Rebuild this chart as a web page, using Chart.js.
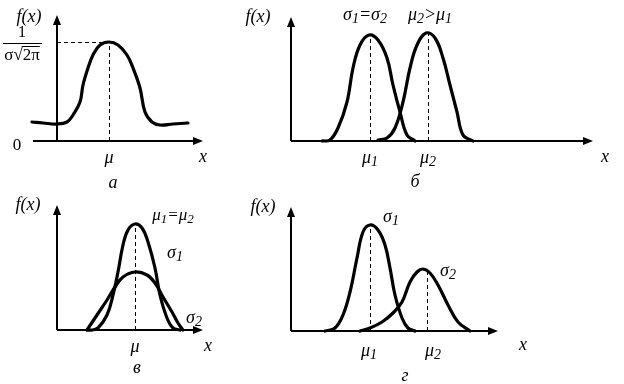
<!DOCTYPE html>
<html><head><meta charset="utf-8">
<script src="https://cdn.jsdelivr.net/npm/chart.js@4.4.1/dist/chart.umd.min.js"></script>
<style>
html,body{margin:0;padding:0;background:#fff;width:624px;height:384px;overflow:hidden}
canvas{position:absolute}
</style></head><body>
<canvas id="pa" width="230" height="192" style="left:0;top:0"></canvas>
<canvas id="pb" width="394" height="192" style="left:230px;top:0"></canvas>
<canvas id="pv" width="230" height="192" style="left:0;top:192px"></canvas>
<canvas id="pg" width="394" height="192" style="left:230px;top:192px"></canvas>
<script>
// ---------- data (x along the axis, f = height of the curve) ----------
// panel а : one normal curve
const aX  = [-2.5,-1.4,0,1.0,1.6,2.3,2.6,3.1,3.6,4.3,5.2,6.1,7.0,7.6,8.3,8.8,9.5,10.3,11.6,13.1];
const aF  = [1.9,1.8,1.7,1.9,2.6,3.9,5.6,7.3,8.6,9.6,9.9,9.6,8.6,7.3,5.3,2.9,1.9,1.6,1.7,1.8];
const aMu = 5.2, aPeak = 9.9;
// panel б : equal sigma, shifted mean
const b1X = [3.1,3.9,4.7,5.6,6.2,6.9,7.8,8.7,9.6,10.2,10.9,11.6,12.4];
const b1F = [0,0.1,1.3,3.9,7.3,9.6,10.6,10.1,8.3,5.6,2.9,0.6,0];
const b2X = [8.7,9.6,10.4,11.2,11.9,12.6,13.5,14.4,15.2,15.9,16.6,17.2,18.2];
const b2F = [0.1,0.3,1.3,3.9,7.3,9.6,10.8,10.3,8.3,5.6,2.9,0.6,0];
const bMu1 = 7.9, bPeak1 = 10.6, bMu2 = 13.7, bPeak2 = 10.8;
// panel в : equal mean, different sigma
const v1X = [3.0,3.5,4.1,5.0,5.6,6.1,6.6,7.1,7.8,8.5,9.1,9.8,10.3,11.0,11.6,12.3];
const v1F = [0,0,0.2,1.5,3.5,5.8,8.5,10.0,10.6,10.2,8.8,6.2,3.5,1.2,0.2,0];
const v2X = [3.0,4.0,5.0,5.8,6.6,7.8,9.0,9.8,10.6,11.5,12.1,12.6];
const v2F = [0,1.5,3.0,4.3,5.3,5.8,5.5,4.7,3.3,1.8,0.7,0];
const vMu = 7.8, vPeak = 10.6;
// panel г : different mean and sigma
const g1X = [3.4,4.4,5.2,5.9,6.6,7.2,7.9,8.7,9.4,9.9,10.4,11.1,11.7,12.4];
const g1F = [0,0.3,1.6,3.9,7.3,9.9,10.6,10.1,8.6,6.3,3.6,1.3,0.3,0];
const g2X = [6.9,7.9,9.1,10.2,11.1,11.9,12.6,13.2,13.9,14.7,15.7,16.7,17.9];
const g2F = [0,0.3,0.9,1.8,2.9,4.9,5.9,6.2,5.8,4.6,2.6,0.9,0];
const gMu1 = 7.9, gPeak1 = 10.6, gMu2 = 13.6, gPeak2 = 6.1;
// labels
const tickA = ['μ'], tickB = ['μ_1','μ_2'], tickV = ['μ'], tickG = ['μ_1','μ_2'];
const captions = ['а','б','в','г'];

// ---------- drawing helpers ----------
const PX = 10;
const SERIF = '"Liberation Serif","DejaVu Serif",serif';

function richText(ctx, str, cx, cy, size, italic) {
  const parts = [];
  for (let i = 0; i < str.length; i++) {
    if (str[i] === '_') { parts.push({t: str[i+1], sub: true}); i++; }
    else parts.push({t: str[i], sub: false});
  }
  const font = s => (italic ? 'italic ' : '') + s + 'px ' + SERIF;
  let w = 0;
  parts.forEach(p => { ctx.font = font(p.sub ? Math.round(size*0.75) : size); p.w = ctx.measureText(p.t).width; w += p.w; });
  let x = cx - w/2;
  ctx.textBaseline = 'middle'; ctx.textAlign = 'left'; ctx.fillStyle = '#000';
  parts.forEach(p => {
    ctx.font = font(p.sub ? Math.round(size*0.75) : size);
    ctx.fillText(p.t, x, p.sub ? cy + size*0.22 : cy);
    x += p.w;
  });
}

function arrow(ctx, x0, y0, x1, y1) {
  const ang = Math.atan2(y1-y0, x1-x0), L = 10, H = 4;
  ctx.beginPath(); ctx.moveTo(x0, y0);
  ctx.lineTo(x1 - L*0.8*Math.cos(ang), y1 - L*0.8*Math.sin(ang)); ctx.stroke();
  ctx.beginPath(); ctx.moveTo(x1, y1);
  ctx.lineTo(x1 - L*Math.cos(ang) - H*Math.sin(ang), y1 - L*Math.sin(ang) + H*Math.cos(ang));
  ctx.lineTo(x1 - L*Math.cos(ang) + H*Math.sin(ang), y1 - L*Math.sin(ang) - H*Math.cos(ang));
  ctx.closePath(); ctx.fill();
}

function decoPlugin(d) {
  return {
    id: 'deco',
    beforeDatasetsDraw(chart) {
      const ctx = chart.ctx, X = v => chart.scales.x.getPixelForValue(v), Y = v => chart.scales.y.getPixelForValue(v);
      ctx.save();
      ctx.strokeStyle = '#000'; ctx.fillStyle = '#000'; ctx.lineWidth = 2;
      arrow(ctx, X(0), Y(0), X(0), Y(d.yTop));
      arrow(ctx, X(d.xStart), Y(0), X(d.xEnd), Y(0));
      ctx.lineWidth = 1; ctx.setLineDash([4,3]);
      d.vdash.forEach(([mx, pk]) => { ctx.beginPath(); ctx.moveTo(X(mx)+0.5, Y(0)); ctx.lineTo(X(mx)+0.5, Y(pk)); ctx.stroke(); });
      (d.hdash || []).forEach(([mx, pk]) => { ctx.beginPath(); ctx.moveTo(X(0), Y(pk)+0.5); ctx.lineTo(X(mx), Y(pk)+0.5); ctx.stroke(); });
      ctx.restore();
    },
    afterDraw(chart) {
      const ctx = chart.ctx, X = v => chart.scales.x.getPixelForValue(v), Y = v => chart.scales.y.getPixelForValue(v);
      ctx.save();
      d.labels.forEach(l => richText(ctx, l.t, X(l.x), Y(l.y), l.s || 18, l.it !== false));
      d.ticks.forEach((t, i) => richText(ctx, t, X(d.tickAt[i]), Y(d.tickY), 18, true));
      if (d.frac) {
        const f = d.frac;
        richText(ctx, '1', X(f.x), Y(f.y) - 10, 16, false);
        ctx.lineWidth = 1; ctx.strokeStyle = '#000';
        ctx.beginPath(); ctx.moveTo(X(f.x) - 19, Y(f.y) + 0.5); ctx.lineTo(X(f.x) + 20, Y(f.y) + 0.5); ctx.stroke();
        // σ√2π with radical bar
        ctx.font = '17px ' + SERIF; ctx.textBaseline = 'middle'; ctx.textAlign = 'left';
        const s1 = 'σ√', s2 = '2π';
        const w1 = ctx.measureText(s1).width, w2 = ctx.measureText(s2).width;
        const x0 = X(f.x) - (w1 + w2)/2, yy = Y(f.y) + 13;
        ctx.fillText(s1, x0, yy); ctx.fillText(s2, x0 + w1, yy);
        ctx.beginPath(); ctx.moveTo(x0 + w1 - 1, yy - 9.5); ctx.lineTo(x0 + w1 + w2, yy - 9.5); ctx.stroke();
      }
      ctx.restore();
    }
  };
}

function panel(id, box, origin, series, deco) {
  const [left, top, w, h] = box, [ox, oy] = origin;
  new Chart(document.getElementById(id), {
    type: 'line',
    data: { datasets: series.map(s => ({
      data: s[0].map((v, i) => ({x: v, y: s[1][i]})),
      borderColor: '#000', borderWidth: 3.2, pointRadius: 0, fill: false, clip: false,
      tension: 0.4, borderCapStyle: 'round', borderJoinStyle: 'round'
    })) },
    options: {
      responsive: false, animation: false, devicePixelRatio: 1,
      layout: { padding: 0 },
      events: [],
      plugins: { legend: { display: false }, tooltip: { enabled: false }, title: { display: false } },
      scales: {
        x: { type: 'linear', display: false, min: (left - ox)/PX, max: (left + w - ox)/PX },
        y: { type: 'linear', display: false, min: (oy - top - h)/PX, max: (oy - top)/PX }
      }
    },
    plugins: [decoPlugin(deco)]
  });
}

panel('pa', [0,0,230,192], [57,141], [[aX, aF]], {
  yTop: 12.6, xStart: -2.4, xEnd: 14.6,
  vdash: [[aMu, aPeak]], hdash: [[aMu, aPeak]],
  ticks: tickA, tickAt: [aMu], tickY: -1.7,
  frac: {x: -3.5, y: 9.8},
  labels: [
    {t: 'f(x)', x: -2.8, y: 12.4},
    {t: '0', x: -4.0, y: -0.5, s: 17, it: false},
    {t: 'x', x: 14.6, y: -1.6},
    {t: captions[0], x: 5.6, y: -4.2}
  ]
});
panel('pb', [230,0,394,192], [291,141], [[b1X, b1F], [b2X, b2F]], {
  yTop: 12.4, xStart: 0, xEnd: 30.2,
  vdash: [[bMu1, bPeak1], [bMu2, bPeak2]],
  ticks: tickB, tickAt: [bMu1, bMu2], tickY: -1.7,
  labels: [
    {t: 'f(x)', x: -3.3, y: 12.4},
    {t: 'σ_1=σ_2', x: 7.4, y: 12.6},
    {t: 'μ_2>μ_1', x: 13.9, y: 12.6},
    {t: 'x', x: 31.4, y: -1.6},
    {t: captions[1], x: 12.4, y: -4.1}
  ]
});
panel('pv', [0,192,230,192], [57,330], [[v1X, v1F], [v2X, v2F]], {
  yTop: 12.5, xStart: 0, xEnd: 14.6,
  vdash: [[vMu, vPeak]],
  ticks: tickV, tickAt: [vMu], tickY: -1.7,
  labels: [
    {t: 'f(x)', x: -2.9, y: 12.5},
    {t: 'μ_1=μ_2', x: 11.6, y: 11.4, s: 17},
    {t: 'σ_1', x: 11.8, y: 7.7},
    {t: 'σ_2', x: 13.7, y: 1.2},
    {t: 'x', x: 15.1, y: -1.6},
    {t: captions[2], x: 8.0, y: -3.8}
  ]
});
panel('pg', [230,192,394,192], [291,331], [[g1X, g1F], [g2X, g2F]], {
  yTop: 12.4, xStart: 0, xEnd: 20.7,
  vdash: [[gMu1, gPeak1], [gMu2, gPeak2]],
  ticks: tickG, tickAt: [gMu1 - 0.1, gMu2 + 0.6], tickY: -2.0,
  labels: [
    {t: 'f(x)', x: -2.8, y: 12.4},
    {t: 'σ_1', x: 10.0, y: 11.4},
    {t: 'σ_2', x: 15.7, y: 6.0},
    {t: 'x', x: 23.2, y: -1.4},
    {t: captions[3], x: 11.4, y: -4.5}
  ]
});
</script>
</body></html>
